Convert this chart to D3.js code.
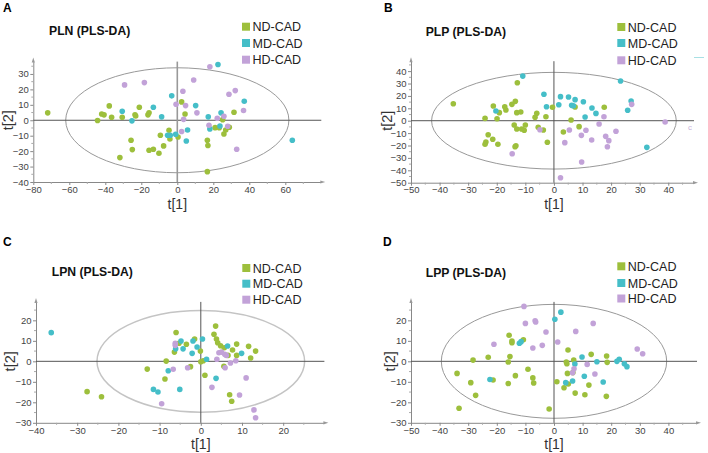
<!DOCTYPE html>
<html>
<head>
<meta charset="utf-8">
<script src="https://cdn.jsdelivr.net/npm/d3@7"></script>
<style>
  body { margin: 0; background: #fff; }
  svg { display: block; font-family: Arial, "Liberation Sans", sans-serif; }
</style>
</head>
<body>
<svg width="708" height="453"></svg>
<script>
var groups = ["ND-CAD", "MD-CAD", "HD-CAD"];
var colors = ["#9dbf3c", "#45bec8", "#c2a2d8"];

// [t1, t2] scores
var plnND = [[-72,4.8],[-44.3,-0.2],[-42,4.1],[-40.7,3.5],[-37.8,9.3],[-36.5,1.9],[-30.6,1.9],[-23.5,3.5],[-23.1,2.8],
  [-21.1,8.4],[-16.3,3.5],[-15.7,4.8],[-25.7,-13],[-25,-19],[-31.9,-24.2],[-15.7,-19.4],[-13.3,-18.8],[-10.2,-21.4],
  [-7.6,-16.6],[-9.4,-9.7],[-4.6,-6.5],[-4.1,-12.1],[0.4,-10.8],[2.4,11.9],[4.3,4.1],[16.7,-13],[17,-16.4],[16.7,-33.3],
  [21,-4.8],[23.3,-4.8],[25.2,0.4],[25.9,-8.9],[26.9,-6.3],[28.9,-4.5],[31.5,5.2]];
var plnMD = [[-30.6,5.8],[-25.2,-0.4],[-13.3,8.4],[-8.7,2.2],[-3.1,15.8],[-5.4,-9.7],[-3.9,-9.7],[-0.9,-9.1],[5,-13.4],
  [5.7,-6.3],[10.2,9.5],[17.2,2.2],[18.1,-5.6],[22.6,36.1],[23.7,-3.7],[24.3,4.8],[37.2,12.3],[63.9,-13]];
var plnHD = [[-29.3,22.9],[-18.3,24.4],[-0.7,10.4],[3.1,18.8],[4.6,9.5],[9.1,26.1],[3.5,0.6],[2.4,-7.3],[10.9,4.8],
  [18.1,34.6],[22.2,1.3],[25.9,2.6],[17.6,-3.2],[28.7,16.8],[32.2,19.2],[28,-3.9],[36.8,6.3],[33,-18.8]];

var plpND = [[-35.2,13.7],[-12.8,30.6],[-21.2,11.9],[-19.1,6.5],[-17.2,11.3],[-16.8,8.6],[-14.7,13.2],[-13.5,15.6],
  [-13,6.5],[-11.6,7],[-24.1,1.9],[-19.9,1.6],[-6,6],[-6.6,2.7],[-2.8,3.2],[-0.5,10.8],[-13.9,-3.5],[-13,-6.7],
  [-11.3,-6.7],[-10.4,-7.7],[-10,-3.5],[-5.5,-5.3],[-3.7,-7.5],[-23,-11.3],[-21.4,-15],[-23.8,-17.2],[-24.1,-19],
  [-19.6,-19],[-13.3,-20.2],[-13.6,-21],[-2.3,-17.4],[7.4,11],[17.6,10.8],[6,0.6],[3.3,-9.1],[8.8,-4.8]];
var plpMD = [[-20.3,7.8],[-10.9,36],[-3.5,21.3],[-2.6,11.3],[2.3,19.4],[5.1,19.1],[7.4,17],[1.7,12.9],[6.2,12.4],
  [6.8,12.1],[10.3,15.3],[13.3,10.2],[14.7,5.9],[10.9,3],[27,15.9],[23.3,32],[25.8,8.4],[32.5,-21.5]];
var plpHD = [[-4.9,-7.3],[-14.6,-26.6],[27.2,13.2],[17.5,3.2],[15.8,-2.7],[38.9,-1],[5.4,-7.5],[11.2,-7.7],[9.6,-11.8],
  [21.7,-8.5],[18.1,-12.6],[19.2,-16.1],[13.2,-15.6],[3.8,-17.7],[18.7,-21],[9.7,-33.3],[2.3,-46]];

var lpnND = [[-6,14.1],[-5.3,8.8],[-3.5,8.3],[-1.5,10.9],[-6.4,4.5],[-0.1,5],[3.6,17.2],[3.2,13.2],[3.8,10.9],[4.1,9.1],
  [4.8,7.6],[5.7,6.6],[6.6,2.9],[7.7,5.5],[8.7,8.4],[8.7,2.9],[11.6,7.3],[12.1,1.6],[13.3,5],[-8.4,0.1],[-13,-3.8],
  [-2.5,-2.6],[0,-0.2],[0.6,0.3],[-8.7,-8.6],[1,-6.8],[5.6,-2.4],[7,-16.3],[7.5,-19.5],[-27.6,-14.8],[-24.1,-17.3]];
var lpnMD = [[-36.3,14],[-6.1,6.1],[-4.8,9.9],[-4.3,6.1],[-2.1,3.9],[-1.9,9.9],[-0.9,7],[0.4,10.9],[1.4,1],[6.5,7.5],
  [9.9,3.9],[-7.9,-4.6],[3.7,-8.3],[-11.5,-13.7],[-10.4,-15],[-5.1,-13.7]];
var lpnHD = [[-6.2,8.8],[-6.2,7.8],[4.4,4.2],[5,4.5],[5.8,3.4],[6.2,2.9],[3.9,1],[7.2,-0.8],[8.5,0.3],[5.9,-3.1],
  [-3.2,-3.1],[-6.7,-3.9],[11,-8.1],[2.7,-12.7],[9.4,-16.4],[-9.5,-20.7],[12.9,-23.7],[13.3,-27.5]];

var lppND = [[-15.7,12.7],[-14.7,9.9],[-14.7,9.1],[-10.7,10.5],[-28.3,0.6],[-23,2],[-15.4,2.3],[-16,-0.3],[-33.9,-5.9],
  [-29.1,-10.4],[-27.4,-16.6],[-33.2,-22.9],[-21.3,-9.1],[-9.1,-3.9],[-13.5,-7],[-7.4,-8.1],[-7.1,-10.6],[-16,-10.8],
  [-1.7,-23.3],[4.9,5.5],[13,3.4],[18.4,2.6],[18.6,-0.5],[6.9,0.6],[4.3,-0.3],[4.5,-1.2],[4.7,-5.9],[6.6,-5.5],
  [1,-10],[3.5,-12.9],[5,-11.1],[12.2,-11.6],[7.4,-15.5],[10.8,-16.3],[18.3,-17.1]];
var lppMD = [[-12.1,8.8],[-11.5,9.6],[-22.4,-8.9],[2.4,24],[0.3,20.5],[9.8,2.1],[15,-0.2],[22,0],[22.8,1],[24.6,-1.2],
  [25.5,-2.6],[7.3,-1.3],[10.6,-7.3],[17.2,-10.1],[4.1,-10.4],[6.5,-9.6]];
var lppHD = [[-10.5,26.8],[-10,18.5],[-6.6,19.8],[-6.4,19.2],[-2.8,14.3],[-21,8.3],[-7.4,6.5],[-4.1,7.8],[13.7,18.5],
  [7.6,14.6],[1.3,9.4],[29.1,6],[31,3.7],[11.6,-1.5],[14.3,-6.2],[7,-3.6],[6.5,-5.6]];

var ticksA = { x: [-80, -60, -40, -20, 0, 20, 40, 60], y: [-40, -30, -20, -10, 0, 10, 20, 30] };
var ticksB = { x: [-50, -40, -30, -20, -10, 0, 10, 20, 30, 40], y: [-50, -40, -30, -20, -10, 0, 10, 20, 30, 40] };
var ticksC = { x: [-40, -30, -20, -10, 0, 10, 20], y: [-30, -20, -10, 0, 10, 20] };
var ticksD = { x: [-50, -40, -30, -20, -10, 0, 10, 20, 30, 40], y: [-30, -20, -10, 0, 10, 20] };

var svg = d3.select("svg");

var panels = [
  { letter: "A", lx: 3, ly: 12, title: "PLN (PLS-DA)", tx: 49, ty: 35,
    legX: 242, legY: [26.7, 43, 59.7],
    xDom: [-80, 80], xRange: [33.3, 321.3], yDom: [-40, 38], yRange: [182, 61.6],
    ticks: ticksA, ell: [62, 34], ellColor: "#999", ellWidth: 1, vColor: "#999", vWidth: 1.6,
    t2x: 13, series: [plnND, plnMD, plnHD] },
  { letter: "B", lx: 384, ly: 12, title: "PLP (PLS-DA)", tx: 425.7, ty: 35.5,
    legX: 617.3, legY: [27, 43, 60.3],
    xDom: [-50, 49], xRange: [411, 694], yDom: [-50, 48], yRange: [182.7, 61.2],
    ticks: ticksB, ell: [42.8, 39], ellColor: "#999", ellWidth: 1, vColor: "#555", vWidth: 1,
    t2x: 392, series: [plpND, plpMD, plpHD] },
  { letter: "C", lx: 3, ly: 246, title: "LPN (PLS-DA)", tx: 51.7, ty: 276,
    legX: 242.3, legY: [268, 283.7, 299.7],
    xDom: [-40, 30], xRange: [36, 324.4], yDom: [-30, 29], yRange: [422.8, 301.9],
    ticks: ticksC, ell: [25.2, 24.8], ellColor: "#c4c4c4", ellWidth: 1.5, vColor: "#555", vWidth: 1,
    t2x: 15, series: [lpnND, lpnMD, lpnHD] },
  { letter: "D", lx: 383, ly: 246, title: "LPP (PLS-DA)", tx: 425.7, ty: 276.5,
    legX: 617.3, legY: [266.3, 283, 298.5],
    xDom: [-50, 50], xRange: [411, 697], yDom: [-30, 29], yRange: [422.8, 301.9],
    ticks: ticksD, ell: [39.4, 27.8], ellColor: "#999", ellWidth: 1, vColor: "#555", vWidth: 1,
    t2x: 395, series: [lppND, lppMD, lppHD] }
];

panels.forEach(function(p) {
  var x = d3.scaleLinear().domain(p.xDom).range(p.xRange);
  var y = d3.scaleLinear().domain(p.yDom).range(p.yRange);
  var g = svg.append("g");
  var xLeft = p.xRange[0], xRight = p.xRange[1];
  var yBot = p.yRange[0], yTop = p.yRange[1];

  g.append("text").attr("x", p.lx).attr("y", p.ly)
    .attr("font-size", 12).attr("font-weight", "bold").text(p.letter);
  g.append("text").attr("x", p.tx).attr("y", p.ty)
    .attr("font-size", 12.2).attr("font-weight", "bold").attr("fill", "#111").text(p.title);

  // legend
  groups.forEach(function(name, i) {
    g.append("rect").attr("x", p.legX).attr("y", p.legY[i] - 4)
      .attr("width", 8).attr("height", 8).attr("fill", colors[i]);
    g.append("text").attr("x", p.legX + 10.5).attr("y", p.legY[i] + 4.6)
      .attr("font-size", 12.5).attr("fill", "#222").text(name);
  });

  // axes
  var xAxis = d3.axisBottom(x).tickValues(p.ticks.x).tickSize(3).tickSizeOuter(0).tickPadding(1);
  var yAxis = d3.axisLeft(y).tickValues(p.ticks.y).tickSize(3).tickSizeOuter(0).tickPadding(1.5);
  var gx = g.append("g").attr("transform", "translate(0," + yBot + ")").call(xAxis);
  var gy = g.append("g").attr("transform", "translate(" + xLeft + ",0)").call(yAxis);
  [gx, gy].forEach(function(a) {
    a.select(".domain").attr("stroke", "#888");
    a.selectAll(".tick line").attr("stroke", "#888");
    a.selectAll(".tick text").attr("font-size", 9.5).attr("fill", "#444")
      .attr("font-family", "Arial, 'Liberation Sans', sans-serif");
  });
  // minor ticks
  var xs = p.ticks.x, ys = p.ticks.y;
  var xm = xs.map(function(v) { return v + (xs[1] - xs[0]) / 2; }).filter(function(v) { return v < p.xDom[1]; });
  var ym = ys.map(function(v) { return v + (ys[1] - ys[0]) / 2; }).filter(function(v) { return v < p.yDom[1]; });
  g.selectAll(null).data(xm).enter().append("line")
    .attr("x1", function(d) { return x(d); }).attr("x2", function(d) { return x(d); })
    .attr("y1", yBot).attr("y2", yBot + 2).attr("stroke", "#aaa");
  g.selectAll(null).data(ym).enter().append("line")
    .attr("y1", function(d) { return y(d); }).attr("y2", function(d) { return y(d); })
    .attr("x1", xLeft).attr("x2", xLeft - 2).attr("stroke", "#aaa");
  // arrow heads
  g.append("path").attr("d", "M" + (xRight + 4) + "," + yBot + "l-5,-1.6v3.2z").attr("fill", "#999");
  g.append("path").attr("d", "M" + xLeft + "," + (yTop - 4) + "l-1.6,5h3.2z").attr("fill", "#999");

  g.append("text").attr("x", x(0)).attr("y", yBot + 26.5).attr("text-anchor", "middle")
    .attr("font-size", 14).attr("fill", "#333").text("t[1]");
  g.append("text").attr("transform", "translate(" + p.t2x + "," + y(0) + ") rotate(-90)")
    .attr("text-anchor", "middle").attr("font-size", 14.5).attr("fill", "#333").text("t[2]");

  // ellipse and zero lines
  g.append("ellipse").attr("cx", x(0)).attr("cy", y(0))
    .attr("rx", x(p.ell[0]) - x(0)).attr("ry", y(0) - y(p.ell[1]))
    .attr("fill", "none").attr("stroke", p.ellColor).attr("stroke-width", p.ellWidth);
  g.append("line").attr("x1", xLeft).attr("x2", xRight).attr("y1", y(0)).attr("y2", y(0))
    .attr("stroke", "#555").attr("stroke-width", 1);
  g.append("line").attr("x1", x(0)).attr("x2", x(0)).attr("y1", yTop).attr("y2", yBot)
    .attr("stroke", p.vColor).attr("stroke-width", p.vWidth);

  p.series.forEach(function(pts, i) {
    g.append("g").selectAll("circle").data(pts).enter().append("circle")
      .attr("cx", function(d) { return x(d[0]); })
      .attr("cy", function(d) { return y(d[1]); })
      .attr("r", 2.8)
      .attr("fill", colors[i]);
  });
});

// stray marks at the right edge of panel B
svg.append("text").attr("x", 688).attr("y", 130).attr("font-size", 8).attr("fill", "#c9b3dd").text("c");
svg.append("line").attr("x1", 694).attr("x2", 704).attr("y1", 57.5).attr("y2", 57.5)
  .attr("stroke", "#a8e0e4").attr("stroke-width", 1);
</script>
</body>
</html>
